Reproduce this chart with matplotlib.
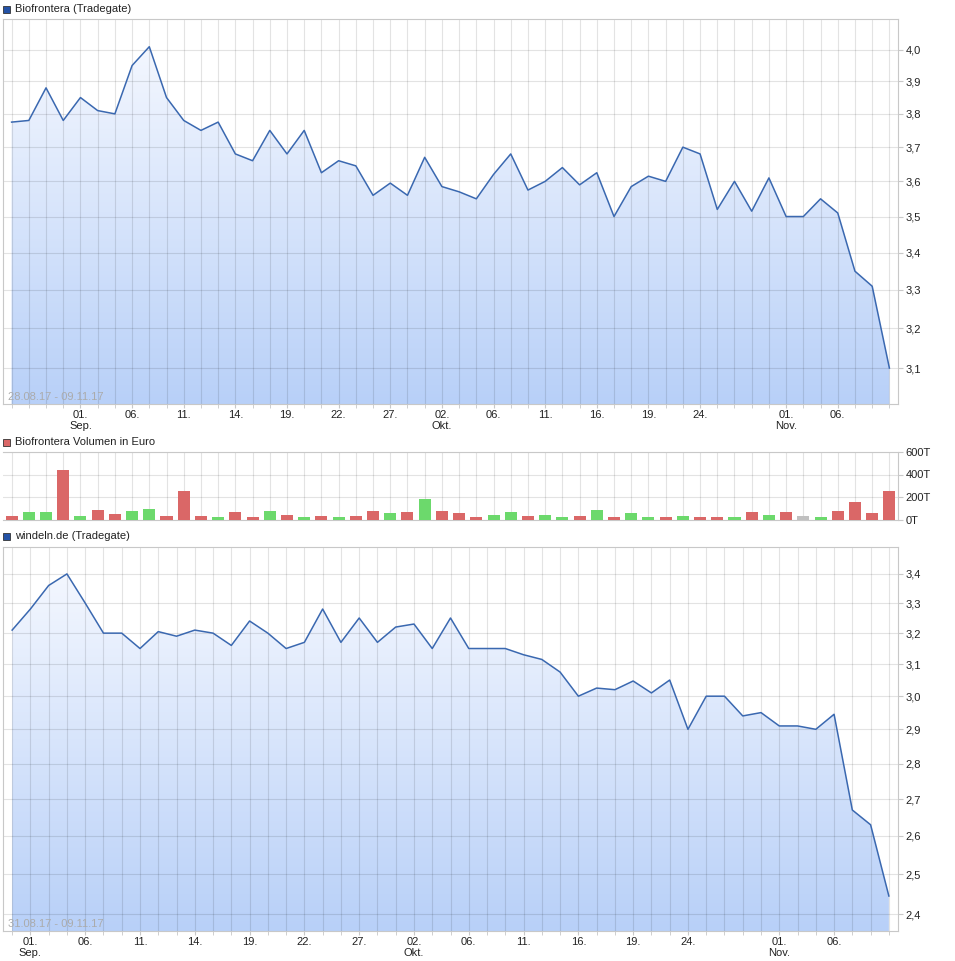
import numpy as np
import pandas as pd
import matplotlib
matplotlib.use("Agg")
import matplotlib.pyplot as plt
from matplotlib.patches import Polygon, Rectangle
from matplotlib.colors import LinearSegmentedColormap
from matplotlib.ticker import NullLocator

plt.rcParams['font.family'] = ['Liberation Sans', 'DejaVu Sans']

# ---------------- data ----------------
holidays = ['2017-10-03', '2017-10-31']
bio_dates = [d for d in pd.bdate_range('2017-08-28', '2017-11-09') if d.strftime('%Y-%m-%d') not in holidays]
win_dates = [d for d in pd.bdate_range('2017-08-31', '2017-11-09') if d.strftime('%Y-%m-%d') not in holidays]

bio_close = [3.775, 3.78, 3.88, 3.78, 3.85, 3.81, 3.80, 3.95, 4.01, 3.85,
             3.78, 3.75, 3.775, 3.68, 3.66, 3.75, 3.68, 3.75, 3.625, 3.66,
             3.645, 3.56, 3.595, 3.56, 3.67, 3.585, 3.57, 3.55, 3.62, 3.68,
             3.575, 3.60, 3.64, 3.59, 3.625, 3.50, 3.585, 3.615, 3.60, 3.70,
             3.68, 3.52, 3.60, 3.515, 3.61, 3.50, 3.50, 3.55, 3.51, 3.35,
             3.31, 3.10]

bio_volume = [35, 65, 65, 441, 35, 88, 53, 80, 97, 35,
              256, 35, 26, 70, 18, 80, 44, 26, 35, 18,
              35, 80, 62, 70, 185, 80, 62, 26, 44, 70,
              35, 44, 26, 35, 88, 26, 62, 26, 26, 35,
              26, 26, 18, 70, 44, 70, 35, 18, 80, 159,
              62, 256]
vol_dir = ['r', 'g', 'g', 'r', 'g', 'r', 'r', 'g', 'g', 'r',
           'r', 'r', 'g', 'r', 'r', 'g', 'r', 'g', 'r', 'g',
           'r', 'r', 'g', 'r', 'g', 'r', 'r', 'r', 'g', 'g',
           'r', 'g', 'g', 'r', 'g', 'r', 'g', 'g', 'r', 'g',
           'r', 'r', 'g', 'r', 'g', 'r', 'n', 'g', 'r', 'r',
           'r', 'r']

win_close = [3.21, 3.28, 3.36, 3.40, 3.30, 3.20, 3.20, 3.15, 3.205, 3.19,
             3.21, 3.20, 3.16, 3.24, 3.20, 3.15, 3.17, 3.28, 3.17, 3.25,
             3.17, 3.22, 3.23, 3.15, 3.25, 3.15, 3.15, 3.15, 3.13, 3.115,
             3.075, 3.00, 3.025, 3.02, 3.047, 3.01, 3.05, 2.90, 3.00, 3.00,
             2.94, 2.95, 2.91, 2.91, 2.90, 2.945, 2.67, 2.63, 2.445]

tick_days = ['2017-09-01', '2017-09-06', '2017-09-11', '2017-09-14', '2017-09-19',
             '2017-09-22', '2017-09-27', '2017-10-02', '2017-10-06', '2017-10-11',
             '2017-10-16', '2017-10-19', '2017-10-24', '2017-11-01', '2017-11-06']
month_names = {9: 'Sep.', 10: 'Okt.', 11: 'Nov.'}

bio_ticks = [3.1, 3.2, 3.3, 3.4, 3.5, 3.6, 3.7, 3.8, 3.9, 4.0]
win_ticks = [2.4, 2.5, 2.6, 2.7, 2.8, 2.9, 3.0, 3.1, 3.2, 3.3, 3.4]
vol_ticks = [0, 200, 400, 600]
vol_ticklabels = ['0T', '200T', '400T', '600T']

# ---------------- style ----------------
W, H = 955, 961
LINE = '#3a68b0'
GRID_KW = dict(color='black', alpha=0.11, lw=0.8)
SPINE = '#c8c8c8'
TXT = '#222222'
VCOL = {'r': '#da6767', 'g': '#6cd96c', 'n': '#c0c0c0'}
grad_cmap = LinearSegmentedColormap.from_list('g', ['#b8d0f8', '#f8faff'])

fig = plt.figure(figsize=(W / 100, H / 100), dpi=100)


def rect(l, t, r, b):
    return [l / W, 1 - b / H, (r - l) / W, (b - t) / H]


def style_common(ax):
    for s in ax.spines.values():
        s.set_color(SPINE)
        s.set_linewidth(0.8)
    ax.yaxis.tick_right()
    ax.tick_params(axis='y', which='major', right=True, left=False, length=3.5,
                   color=SPINE, labelsize=8, labelcolor=TXT, pad=2)
    ax.yaxis.set_minor_locator(NullLocator())


def x_labels(ax, dates):
    idx = {d.strftime('%Y-%m-%d'): i for i, d in enumerate(dates)}
    pos, labs = [], []
    for t in tick_days:
        if t in idx:
            d = pd.Timestamp(t)
            lab = d.strftime('%d.')
            if d.day == 1 or t == '2017-10-02':
                lab += '\n' + month_names[d.month]
            pos.append(idx[t])
            labs.append(lab)
    ax.set_xticks(pos)
    ax.set_xticklabels(labs, linespacing=1.15)
    ax.set_xticks(range(len(dates)), minor=True)
    ax.tick_params(axis='x', which='both', length=3, color=SPINE,
                   labelsize=8, labelcolor=TXT, pad=1.5)


def price_panel(ax, dates, values, ticks, ylim, range_text):
    n = len(values)
    x = np.arange(n)
    ax.set_yscale('log')
    ax.set_xlim(-0.5, n - 0.5)
    ax.set_ylim(*ylim)
    ax.set_autoscale_on(False)
    grad = np.linspace(0, 1, 256).reshape(-1, 1)
    im = ax.imshow(grad, extent=[0, 1, 0, 1], transform=ax.transAxes, origin='lower',
                   cmap=grad_cmap, aspect='auto', zorder=1, interpolation='bilinear')
    verts = [(0, ylim[0])] + list(zip(x, values)) + [(n - 1, ylim[0])]
    poly = Polygon(verts, closed=True, facecolor='none', edgecolor='none',
                   transform=ax.transData)
    ax.add_patch(poly)
    im.set_clip_path(poly)
    for xi in x:
        ax.axvline(xi, zorder=2, **GRID_KW)
    for t in ticks:
        ax.axhline(t, zorder=2, **GRID_KW)
    ax.plot(x, values, color=LINE, lw=1.1, zorder=4)
    style_common(ax)
    ax.set_yticks(ticks)
    ax.set_yticklabels([f'{t:.1f}'.replace('.', ',') for t in ticks])
    x_labels(ax, dates)
    ax.text(0.006, 0.005, range_text, transform=ax.transAxes, color='#ababab',
            fontsize=8, va='bottom', ha='left', zorder=5)


def header(y, text, color):
    fig.add_artist(Rectangle((3 / W, 1 - (y + 4) / H), 7 / W, 7 / H,
                             transform=fig.transFigure, facecolor=color,
                             edgecolor='#333333', lw=0.6))
    fig.text(15 / W, 1 - y / H, text, fontsize=8, color=TXT, va='center', ha='left')


# top panel: Biofrontera
ax1 = fig.add_axes(rect(3, 19, 898, 404))
price_panel(ax1, bio_dates, bio_close, bio_ticks, (3.012, 4.10), '28.08.17 - 09.11.17')
header(9, 'Biofrontera (Tradegate)', '#2452a6')

# volume panel
ax2 = fig.add_axes(rect(3, 452, 898, 519.5))
xv = np.arange(len(bio_volume))
ax2.set_xlim(-0.5, len(bio_volume) - 0.5)
ax2.set_ylim(0, 600)
for xi in xv:
    ax2.axvline(xi, zorder=1, **GRID_KW)
for t in vol_ticks:
    ax2.axhline(t, zorder=1, **GRID_KW)
ax2.bar(xv, bio_volume, width=0.7, color=[VCOL[c] for c in vol_dir], zorder=3)
style_common(ax2)
ax2.set_yticks(vol_ticks)
ax2.set_yticklabels(vol_ticklabels)
ax2.set_xticks([])
ax2.spines['left'].set_visible(False)
header(442, 'Biofrontera Volumen in Euro', '#da6767')

# bottom panel: windeln.de
ax3 = fig.add_axes(rect(3, 547, 898, 931))
price_panel(ax3, win_dates, win_close, win_ticks, (2.359, 3.495), '31.08.17 - 09.11.17')
header(536, 'windeln.de (Tradegate)', '#2452a6')

fig.savefig('out.png', dpi=100)
